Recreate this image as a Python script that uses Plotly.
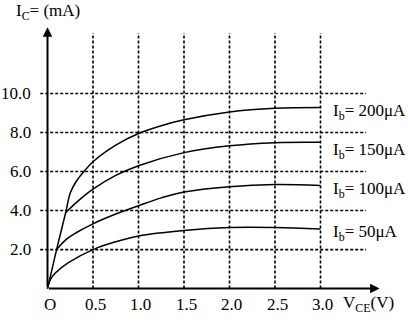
import plotly.graph_objects as go

# Collector characteristics I_C(V_CE) for several base currents
ib_labels = ["200μA", "150μA", "100μA", "50μA"]

vce_200 = [0, 0.10, 0.20, 0.25, 0.31, 0.40, 0.50, 0.75, 1.0, 1.25, 1.5, 2.0, 2.5, 3.0]
ic_200 = [0, 2.0, 3.9, 4.9, 5.45, 6.0, 6.5, 7.35, 7.95, 8.35, 8.65, 9.05, 9.24, 9.28]

vce_150 = [0.20, 0.35, 0.50, 0.75, 1.0, 1.5, 2.0, 2.5, 3.0]
ic_150 = [3.9, 4.55, 5.1, 5.8, 6.3, 6.97, 7.32, 7.48, 7.5]

vce_100 = [0.10, 0.20, 0.31, 0.50, 0.75, 1.0, 1.25, 1.5, 2.0, 2.5, 3.0]
ic_100 = [2.0, 2.5, 2.85, 3.32, 3.82, 4.25, 4.65, 4.95, 5.22, 5.33, 5.28]

vce_50 = [0, 0.03, 0.086, 0.23, 0.50, 0.75, 1.0, 1.5, 2.0, 2.5, 3.0]
ic_50 = [0, 0.45, 0.8, 1.33, 2.0, 2.4, 2.7, 2.98, 3.13, 3.13, 3.05]

x_ticks = [0, 0.5, 1.0, 1.5, 2.0, 2.5, 3.0]
x_tick_text = ["O", "0.5", "1.0", "1.5", "2.0", "2.5", "3.0"]
y_ticks = [2.0, 4.0, 6.0, 8.0, 10.0]
y_tick_text = ["2.0", "4.0", "6.0", "8.0", "10.0"]

FONT = dict(family="Liberation Serif", size=17, color="black")

curves = [(vce_200, ic_200), (vce_150, ic_150), (vce_100, ic_100), (vce_50, ic_50)]
label_shift = [-4, -9, -4, -4]  # vertical nudge of each curve label, px

fig = go.Figure()
for (vx, iy) in curves:
    fig.add_trace(go.Scatter(
        x=vx, y=iy, mode="lines",
        line=dict(color="black", width=1.5, shape="spline", smoothing=1.0),
        hoverinfo="skip", showlegend=False,
    ))

grid_line = dict(color="black", width=1.6, dash="3px,2px")
# horizontal dotted grid
for yv in y_ticks:
    fig.add_shape(type="line", x0=-0.08, x1=3.5, y0=yv, y1=yv,
                  xref="x", yref="y", line=grid_line, layer="below")
# vertical dotted grid
for xv in x_ticks[1:]:
    fig.add_shape(type="line", x0=xv, x1=xv, y0=0, y1=13.1,
                  xref="x", yref="y", line=grid_line, layer="below")

# axes with arrowheads
fig.add_annotation(x=0, y=13.4, ax=0, ay=0, xref="x", yref="y", axref="x", ayref="y",
                   text="", showarrow=True, arrowhead=2, arrowsize=0.95, arrowwidth=2,
                   arrowcolor="black", standoff=0, startstandoff=0)
fig.add_annotation(x=3.65, y=0, ax=0, ay=0, xref="x", yref="y", axref="x", ayref="y",
                   text="", showarrow=True, arrowhead=2, arrowsize=0.95, arrowwidth=2,
                   arrowcolor="black", standoff=0, startstandoff=0)

# tick labels
for xv, t in zip(x_ticks, x_tick_text):
    fig.add_annotation(x=xv, y=-0.8, text=t, showarrow=False, font=FONT,
                       xanchor="center", yanchor="middle", xshift=2)
for yv, t in zip(y_ticks, y_tick_text):
    fig.add_annotation(x=-0.16, y=yv, text=t, showarrow=False, font=FONT,
                       xanchor="right", yanchor="middle")

# axis titles
fig.add_annotation(x=-0.37, y=14.2, text="I<sub>C</sub>= (mA)", showarrow=False,
                   font=FONT, xanchor="left", yanchor="middle")
fig.add_annotation(x=3.22, y=-0.8, text="V<sub>CE</sub>(V)", showarrow=False,
                   font=FONT, xanchor="left", yanchor="middle")

# curve labels at the right-hand end of each curve
for (vx, iy), lab, dy in zip(curves, ib_labels, label_shift):
    fig.add_annotation(x=vx[-1] + 0.11, y=iy[-1], text="I<sub>b</sub>= " + lab,
                       showarrow=False, font=FONT, xanchor="left", yanchor="middle",
                       yshift=dy)

fig.update_layout(
    width=408, height=323,
    margin=dict(l=0, r=0, t=0, b=0),
    paper_bgcolor="white", plot_bgcolor="white",
    font=FONT,
    xaxis=dict(range=[-0.522, 3.9615], visible=False, fixedrange=True),
    yaxis=dict(range=[-1.7632, 14.7924], visible=False, fixedrange=True),
    showlegend=False,
)

fig.write_html("out.html")
